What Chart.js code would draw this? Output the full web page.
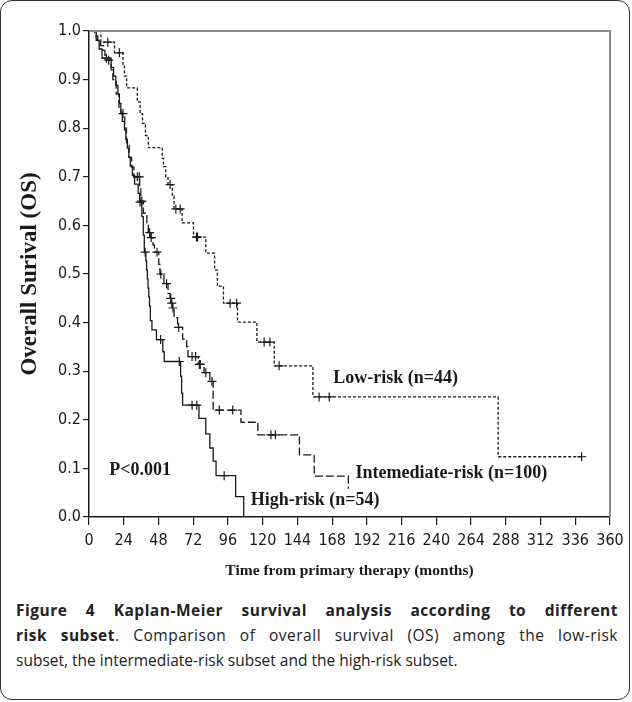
<!DOCTYPE html>
<html>
<head>
<meta charset="utf-8">
<script src="https://cdn.jsdelivr.net/npm/chart.js@4.4.0/dist/chart.umd.min.js"></script>
<style>
html, body { margin: 0; padding: 0; background: #fff; }
#panel { position: absolute; left: 0; top: 0; width: 628px; height: 698px; border: 1.5px solid #333; border-radius: 12px; }
#wrap { position: absolute; left: 0; top: 0; width: 632px; height: 590px; }
#caption { position: absolute; left: 16px; top: 598px; width: 602px; font-family: "Open Sans", sans-serif; font-size: 15.5px; line-height: 25px; color: #222; }
#caption div { white-space: nowrap; }
#caption .j { text-align: justify; text-align-last: justify; letter-spacing: 0.5px; }
</style>
</head>
<body>
<div id="panel"></div>
<div id="wrap"><canvas id="km"></canvas></div>
<div id="caption">
  <div class="j"><b>Figure 4 Kaplan-Meier survival analysis according to different</b></div>
  <div class="j"><b>risk subset</b>. Comparison of overall survival (OS) among the low-risk</div>
  <div>subset, the intermediate-risk subset and the high-risk subset.</div>
</div>
<script>
// survival steps: time (months) -> survival after the event
var lowT  = [0, 8.2, 17.6, 23.5, 24.5, 26, 33.4, 35.3, 37, 39, 41, 50.6, 51.5, 53, 54.6, 57.6, 58.8, 64.3, 72.2, 80.7, 86.8, 88.7, 92.9, 102.6, 116, 128, 154.7, 282.7, 340.4];
var lowS  = [1, 0.977, 0.955, 0.93, 0.907, 0.883, 0.854, 0.83, 0.81, 0.785, 0.76, 0.738, 0.721, 0.70, 0.684, 0.66, 0.634, 0.605, 0.576, 0.543, 0.508, 0.475, 0.44, 0.401, 0.36, 0.311, 0.247, 0.124, 0.124];
var lowCens = [13, 21, 56, 60, 63, 74.3, 75, 97.5, 102, 121, 125, 131.4, 159, 166, 340.4];

var midT  = [0, 4, 6, 8, 10, 11, 12, 15.3, 16.5, 18.8, 20.7, 22, 24.7, 25.9, 27.8, 29.4, 31, 35, 35.8, 37.6, 40, 41, 42.5, 44.2, 45.2, 48.2, 49, 51.8, 54.6, 56, 56.8, 57.6, 58.8, 61.2, 64.7, 67.5, 68.4, 75.5, 79.5, 83.5, 85.8, 105, 116.7, 145.4, 155.6, 179.2];
var midS  = [1, 0.99, 0.98, 0.97, 0.96, 0.95, 0.94, 0.92, 0.90, 0.87, 0.84, 0.83, 0.80, 0.77, 0.74, 0.72, 0.70, 0.68, 0.65, 0.625, 0.605, 0.585, 0.575, 0.56, 0.545, 0.52, 0.50, 0.48, 0.46, 0.45, 0.44, 0.43, 0.41, 0.39, 0.366, 0.35, 0.33, 0.314, 0.297, 0.279, 0.22, 0.195, 0.169, 0.128, 0.084, 0.058];
var midCens = [13.6, 23.5, 33.4, 34.8, 36.5, 41.9, 43, 47, 49.6, 53.6, 56.5, 57.2, 58, 61.9, 71.2, 73.7, 76.2, 76.9, 80.7, 85, 90, 99.3, 125.7, 128.8];

var highT = [0, 5, 7, 9, 15.3, 17, 18.5, 20, 21, 22, 23, 24.5, 25.5, 26.5, 27.5, 28.5, 30, 31.5, 34, 35, 36.5, 37.5, 38.2, 39.3, 39.8, 40.3, 40.8, 41.3, 41.8, 42.4, 43.5, 46.6, 51, 52, 63.3, 64, 64.7, 76, 80.7, 83.5, 85.8, 87.8, 101.3, 106.9];
var highS = [1, 0.981, 0.963, 0.944, 0.925, 0.907, 0.888, 0.87, 0.851, 0.833, 0.814, 0.796, 0.777, 0.759, 0.74, 0.722, 0.703, 0.685, 0.666, 0.648, 0.618, 0.58, 0.545, 0.527, 0.508, 0.49, 0.471, 0.453, 0.434, 0.404, 0.385, 0.365, 0.34, 0.32, 0.29, 0.255, 0.23, 0.203, 0.171, 0.142, 0.115, 0.085, 0.042, 0];
var highCens = [12, 35.3, 38.8, 49.5, 62.4, 71.2, 74.5, 93.4];

var xTickValues = [0, 24, 48, 72, 96, 120, 144, 168, 192, 216, 240, 264, 288, 312, 336, 360];
var yTickValues = [0, 0.1, 0.2, 0.3, 0.4, 0.5, 0.6, 0.7, 0.8, 0.9, 1.0];

function pts(ts, ss) {
  return ts.map(function (t, i) { return { x: t, y: ss[i] }; });
}
// survival value at a censoring time
function censPts(cens, ts, ss) {
  return cens.map(function (c) {
    var v = ss[0];
    for (var i = 0; i < ts.length; i++) { if (ts[i] <= c) v = ss[i]; }
    return { x: c, y: v };
  });
}

var ink = '#1a1a1a';
function curve(ts, ss, dash) {
  return { type: 'line', data: pts(ts, ss), stepped: 'before', borderColor: ink, borderWidth: 1.3,
           borderDash: dash, pointRadius: 0, fill: false, tension: 0 };
}
function marks(cens, ts, ss) {
  return { type: 'scatter', data: censPts(cens, ts, ss), pointStyle: 'cross', pointRadius: 4.5,
           borderColor: ink, borderWidth: 1.2, showLine: false };
}

var notes = [
  { text: 'Low-risk (n=44)', x: 168.8, y: 0.285 },
  { text: 'Intemediate-risk (n=100)', x: 184.2, y: 0.09 },
  { text: 'High-risk (n=54)', x: 111.7, y: 0.035 },
  { text: 'P<0.001', x: 14, y: 0.097 }
];

var extras = {
  id: 'extras',
  afterDraw: function (chart) {
    var c = chart.ctx, a = chart.chartArea, xs = chart.scales.x, ys = chart.scales.y;
    c.save();
    c.strokeStyle = '#8a8a8a';
    c.lineWidth = 2;
    c.beginPath();
    c.moveTo(a.left, a.top); c.lineTo(a.right, a.top); c.lineTo(a.right, a.bottom);
    c.stroke();
    c.fillStyle = ink;
    c.font = 'bold 18px "Liberation Serif", serif';
    c.textBaseline = 'middle';
    notes.forEach(function (n) {
      c.fillText(n.text, xs.getPixelForValue(n.x), ys.getPixelForValue(n.y));
    });
    c.restore();
  }
};

var tickFont = { family: '"Liberation Sans Narrow", "DejaVu Sans Condensed", sans-serif', size: 16 };

new Chart(document.getElementById('km'), {
  data: {
    datasets: [
      curve(lowT, lowS, [3, 2]),
      curve(midT, midS, [8, 3]),
      curve(highT, highS, []),
      marks(lowCens, lowT, lowS),
      marks(midCens, midT, midS),
      marks(highCens, highT, highS)
    ]
  },
  options: {
    responsive: true,
    maintainAspectRatio: false,
    animation: false,
    layout: { padding: { left: 16, top: 31, right: 22, bottom: 0 } },
    plugins: { legend: { display: false }, tooltip: { enabled: false } },
    scales: {
      x: {
        type: 'linear', min: 0, max: 360,
        afterBuildTicks: function (s) { s.ticks = xTickValues.map(function (v) { return { value: v }; }); },
        afterFit: function (s) { s.height = 73; },
        ticks: { color: ink, font: tickFont, maxRotation: 0, autoSkip: false, padding: 6 },
        grid: { drawOnChartArea: false, drawTicks: true, tickLength: 8, color: ink, lineWidth: 1.2 },
        border: { color: ink, width: 1.5 },
        title: { display: true, text: 'Time from primary therapy (months)', color: ink,
                 font: { family: '"Liberation Serif", serif', size: 15.5, weight: 'bold' }, padding: { top: 2, bottom: 10 } }
      },
      y: {
        type: 'linear', min: 0, max: 1,
        afterBuildTicks: function (s) { s.ticks = yTickValues.map(function (v) { return { value: v }; }); },
        afterFit: function (s) { s.width = 73; },
        ticks: { color: ink, font: tickFont, padding: 2, callback: function (v) { return v.toFixed(1); } },
        grid: { drawOnChartArea: false, drawTicks: true, tickLength: 6, color: ink, lineWidth: 1.2 },
        border: { color: ink, width: 1.5 },
        title: { display: true, text: 'Overall Surival (OS)', color: ink,
                 font: { family: '"Liberation Serif", serif', size: 23, weight: 'bold' }, padding: { top: 0, bottom: 0 } }
      }
    }
  },
  plugins: [extras]
});
</script>
</body>
</html>
